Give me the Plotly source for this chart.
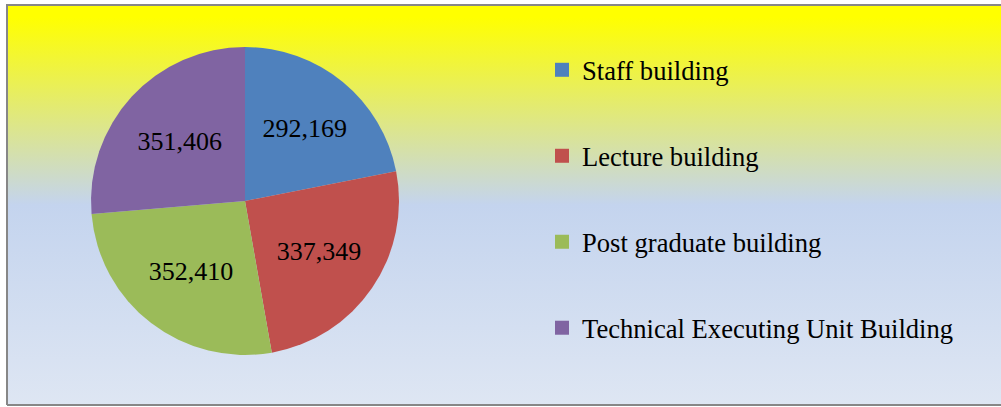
import plotly.graph_objects as go

labels = ["Staff building", "Lecture building", "Post graduate building",
          "Technical Executing Unit Building"]
values = [292169, 337349, 352410, 351406]
colors = ["#4F81BD", "#C0504D", "#9BBB59", "#8064A2"]

W, H = 1001, 407

fig = go.Figure()

# gradient background panel with grey frame
fig.add_trace(go.Scatter(
    x=[7, 1005, 1005, 7, 7], y=[H - 405, H - 405, H - 5, H - 5, H - 405],
    mode="lines", fill="toself",
    line=dict(color="#878787", width=2),
    fillgradient=dict(type="vertical", colorscale=[
        [0.0, "#DEE6F3"], [0.5, "#C4D4EE"], [0.97, "#FFFF00"], [1.0, "#FFFF00"]]),
    hoverinfo="skip", showlegend=False,
))

fig.add_trace(go.Pie(
    labels=labels, values=values, sort=False, direction="clockwise", rotation=0,
    marker=dict(colors=colors, line=dict(width=0)),
    texttemplate="%{value:,}", textposition="inside",
    insidetextorientation="horizontal",
    textfont=dict(family="Liberation Serif", size=26, color="black"),
    domain=dict(x=[91 / W, 399 / W], y=[(H - 355) / H, (H - 47) / H]),
    showlegend=False, hoverinfo="label+value",
))

# legend entries
for i, (lab, col) in enumerate(zip(labels, colors)):
    fig.add_trace(go.Scatter(
        x=[None], y=[None], mode="markers", name=lab,
        marker=dict(symbol="square", size=14, color=col),
        legendgroup=f"g{i}", showlegend=True,
    ))

fig.update_layout(
    width=W, height=H,
    margin=dict(l=0, r=0, t=0, b=0),
    paper_bgcolor="white", plot_bgcolor="rgba(0,0,0,0)",
    xaxis=dict(range=[0, W], visible=False, fixedrange=True),
    yaxis=dict(range=[0, H], visible=False, fixedrange=True),
    legend=dict(
        x=542 / W, y=(H - 46) / H, xanchor="left", yanchor="top",
        bgcolor="rgba(0,0,0,0)", tracegroupgap=48.4,
        font=dict(family="Liberation Serif", size=26.6, color="black"),
        itemclick=False, itemdoubleclick=False,
    ),
)

fig.write_html("out.html", config={"displayModeBar": False},
               post_script="document.body.style.margin='0';")
